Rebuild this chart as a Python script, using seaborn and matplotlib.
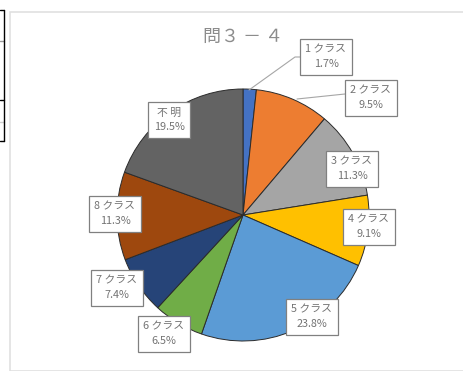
import matplotlib
matplotlib.use("Agg")
import matplotlib.pyplot as plt
import seaborn as sns
from matplotlib.lines import Line2D
from matplotlib.patches import Rectangle

# data
categories = ["1 クラス", "2 クラス", "3 クラス", "4 クラス", "5 クラス",
              "6 クラス", "7 クラス", "8 クラス", "不 明"]
shares = [1.7, 9.5, 11.3, 9.1, 23.8, 6.5, 7.4, 11.3, 19.5]
colors = ["#4472C4", "#ED7D31", "#A5A5A5", "#FFC000", "#5B9BD5",
          "#70AD47", "#264478", "#9E480E", "#636363"]
title = "問３ － ４"

# label box centres in pixel coords (layout only)
label_pos = [(326, 57), (371, 98), (352, 169), (369, 227), (312, 317),
             (164, 334), (117, 288), (115, 214), (169, 120)]

W, H = 464, 371
sns.set_theme(style="white")
plt.rcParams["font.family"] = ["Noto Sans CJK JP", "DejaVu Sans"]

fig = plt.figure(figsize=(W / 100, H / 100), dpi=100)
ax = fig.add_axes([0, 0, 1, 1])

def py(y):
    return H - y

# chart panel and spreadsheet cell edges
ax.add_patch(Rectangle((10.5, 0), W, py(11.5), fill=False,
                       edgecolor="#e0e0e0", lw=1.2))
for y0, c in [(10, "black"), (41, "#9a9a9a"), (100, "black"),
              (122, "#cfcfcf"), (141, "black")]:
    ax.add_line(Line2D([0, 4.5], [py(y0), py(y0)], color=c, lw=1))
ax.add_line(Line2D([4.5, 4.5], [py(10), py(141)], color="black", lw=1))

pal = sns.color_palette(colors)
ax.pie(shares, colors=pal, startangle=90, counterclock=False,
       center=(243, py(215)), radius=126,
       wedgeprops=dict(edgecolor="#2b2b2b", linewidth=0.7))

ax.set_xlim(0, W)
ax.set_ylim(0, H)
ax.set_aspect("equal")
ax.axis("off")

# leader lines for the small slices
ax.add_line(Line2D([300, 295, 249], [py(57), py(57), py(90)],
                   color="#a6a6a6", lw=0.8))
ax.add_line(Line2D([345, 297], [py(94), py(99)], color="#a6a6a6", lw=0.8))

for name, val, (x, y) in zip(categories, shares, label_pos):
    ax.text(x, py(y), f"{name}\n{val:.1f}%", ha="center", va="center",
            fontsize=7.8, color="#737373", linespacing=1.55,
            bbox=dict(boxstyle="square,pad=0.5", fc="white",
                      ec="#808080", lw=0.9))

ax.text(243, py(37), title, ha="center", va="center", fontsize=13,
        color="#8c8c8c")

fig.savefig("out.png", dpi=100)
